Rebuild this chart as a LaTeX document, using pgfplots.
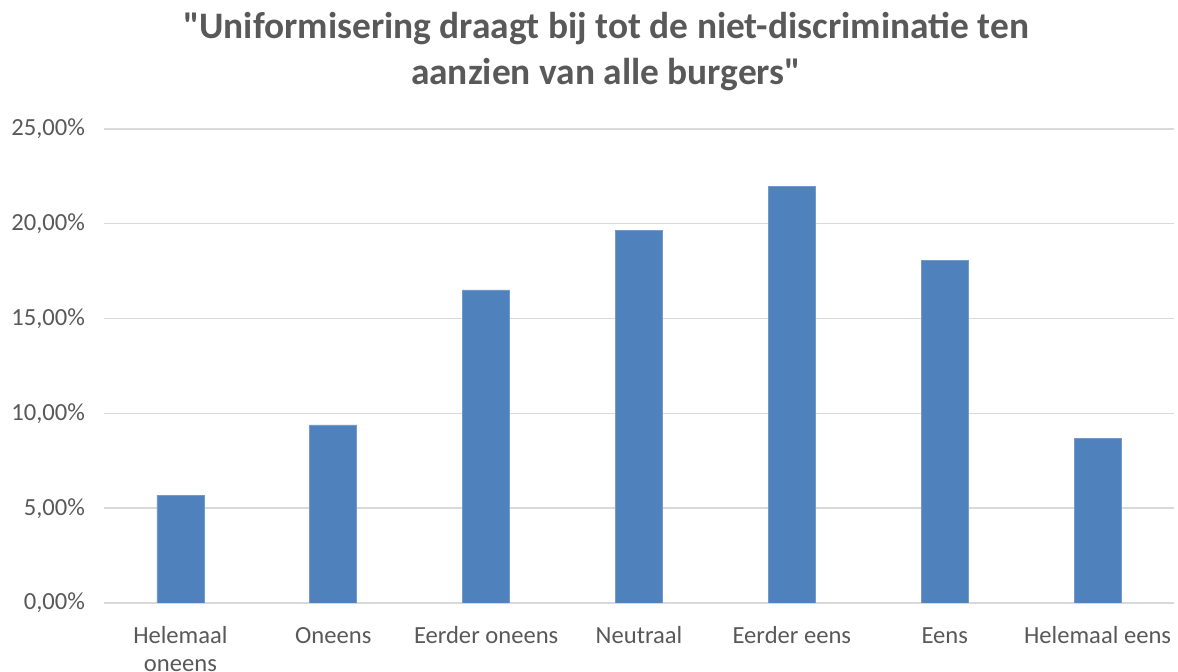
\documentclass[border=0pt]{standalone}
\usepackage{fontspec}
\setmainfont{Carlito}
\usepackage{pgfplots}
\pgfplotsset{compat=1.18}
\definecolor{barblue}{HTML}{4F81BD}
\definecolor{gridgray}{HTML}{D9D9D9}
\definecolor{txtgray}{HTML}{595959}
\begin{document}
\begin{tikzpicture}
\begin{axis}[
  scale only axis,
  width=535pt, height=237pt,
  ymin=0, ymax=25,
  ytick={0,5,...,25},
  yticklabel={\pgfmathprintnumber[fixed,fixed zerofill,precision=2,use comma]{\tick}\%},
  /pgf/number format/assume math mode=true,
  xmin=-0.5, xmax=6.5,
  xtick=data,
  xticklabels={{\strut Helemaal\\\strut oneens},\strut Oneens,\strut Eerder oneens,\strut Neutraal,\strut Eerder eens,\strut Eens,\strut Helemaal eens},
  x tick label style={align=center, font=\fontsize{12.3}{14}\selectfont, text=txtgray, anchor=north, inner sep=0pt, yshift=-10.2pt},
  y tick label style={font=\fontsize{12.3}{14}\selectfont, text=txtgray, xshift=-6pt},
  major tick length=0pt,
  ymajorgrids, grid style={gridgray, line width=0.7pt},
  axis line style={draw=none},
  axis x line*=bottom,
  x axis line style={draw=gridgray, line width=0.7pt},
  ybar, bar width=23.5pt,
]
  \addplot[fill=barblue, draw=barblue!80!white, line width=0.4pt]
    coordinates {(0,5.68)(1,9.39)(2,16.51)(3,19.67)(4,21.95)(5,18.09)(6,8.68)};
\end{axis}
\node[anchor=base, font=\fontsize{18.7}{22}\bfseries, text=txtgray] at ([xshift=-16.5pt,yshift=45pt]current axis.north) {\textquotedbl Uniformisering draagt bij tot de niet-discriminatie ten};
\node[anchor=base, font=\fontsize{18.7}{22}\bfseries, text=txtgray] at ([xshift=-16.5pt,yshift=22pt]current axis.north) {aanzien van alle burgers\textquotedbl};
\pgfresetboundingbox
\path (current axis.south west) ++(-52pt,-34.5pt) rectangle ++(589pt,336pt);
\end{tikzpicture}
\end{document}
